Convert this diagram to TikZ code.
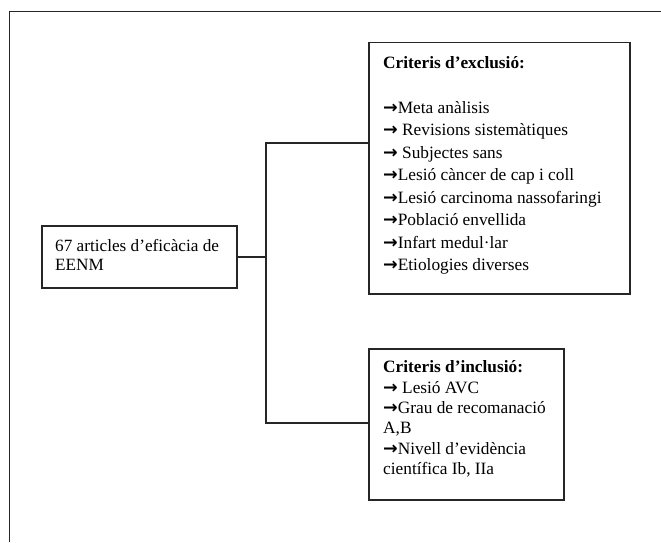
\documentclass[tikz,border=0pt]{standalone}
\usepackage{fontspec}
\setmainfont{Liberation Serif}
\newfontfamily\arrfont{DejaVu Sans}
\newcommand{\arrw}{{\arrfont\bfseries\fontsize{17.5}{17.5}\selectfont →}}
\begin{document}
\begin{tikzpicture}[x=1pt,y=-1pt,
  frame/.style={draw=black!85,line width=1.1pt},
  boxst/.style={draw=black!85,line width=1.1pt,rectangle,inner sep=0pt},
  txt/.style={anchor=north west,inner sep=0pt,align=left},
  link/.style={draw=black!85,line width=1.1pt}]
\useasboundingbox (0,0) rectangle (661,542);
% outer frame (only top and left sides visible)
\coordinate (fbl) at (9.5,542);
\coordinate (ftl) at (9.5,11.5);
\coordinate (ftr) at (661,11.5);
\draw[frame] (fbl) -- (ftl) -- (ftr);
% boxes
\node[boxst,minimum width=195pt,minimum height=62pt] (inp) at (139.5,257) {};
\node[boxst,minimum width=261pt,minimum height=251.5pt] (excl) at (499.5,168.25) {};
\node[boxst,minimum width=195pt,minimum height=151pt] (incl) at (466.5,424.5) {};
% texts
\node[txt,font=\fontsize{17.2}{19}\selectfont] (inptxt) at (55,239.5)
  {67 articles d’eficàcia de\\EENM};
\node[txt,font=\fontsize{17.3}{22.5}\selectfont] (excltxt) at (383,56)
  {\textbf{Criteris d’exclusió:}\\[22.5pt]
   \arrw Meta anàlisis\\
   \arrw\ Revisions sistemàtiques\\
   \arrw\ Subjectes sans\\
   \arrw Lesió càncer de cap i coll\\
   \arrw Lesió carcinoma nassofaringi\\
   \arrw Població envellida\\
   \arrw Infart medul·lar\\
   \arrw Etiologies diverses};
\node[txt,font=\fontsize{17.3}{20.4}\selectfont] (incltxt) at (383,360.5)
  {\textbf{Criteris d’inclusió:}\\
   \arrw\ Lesió AVC\\
   \arrw Grau de recomanació\\
   A,B\\
   \arrw Nivell d’evidència\\
   científica Ib, IIa};
% connectors
\coordinate (top) at (266,143);
\coordinate (bot) at (266,423);
\draw[link] (inp.east) -- (inp.east -| top);
\draw[link] (excl.west |- top) -- (top) -- (bot) -- (incl.west |- bot);
\end{tikzpicture}
\end{document}
